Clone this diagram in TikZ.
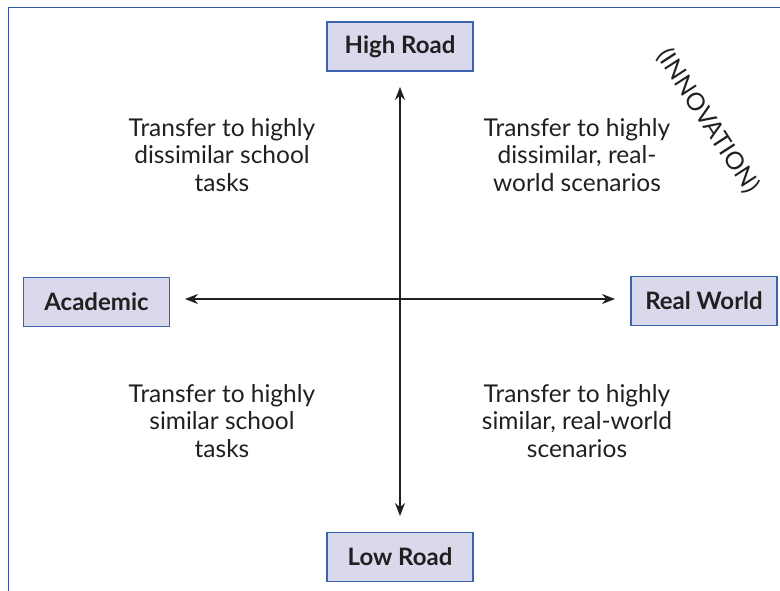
\documentclass[tikz,border=0pt]{standalone}
\usepackage{fontspec}
\usetikzlibrary{arrows.meta}
\setmainfont{Lato}
\definecolor{frameblue}{HTML}{2F55A4}
\definecolor{boxfill}{HTML}{DAD9EC}
\definecolor{boxline}{HTML}{3A62AE}
\definecolor{txt}{HTML}{231F20}
\begin{document}
\begin{tikzpicture}[x=1pt,y=-1pt,
  lbl/.style={draw=boxline, line width=1.2pt, fill=boxfill, minimum width=146pt, minimum height=49pt, inner sep=0pt, font=\fontsize{24}{28}\selectfont\bfseries, text=txt},
  quad/.style={align=center, font=\fontsize{24.5}{27.5}\selectfont, text=txt},
  axis/.style={line width=1.3pt, txt, -{Stealth[length=13pt,width=10pt]}}
]
\useasboundingbox (0,0) rectangle (780,591);
\draw[frameblue, line width=1.5pt] (780,7.5) -- (8.5,7.5) -- (8.5,591);
\node[lbl] (high) at (400,46.5) {High Road};
\node[lbl] (low) at (400,557) {Low Road};
\node[lbl] (acad) at (96.5,302) {Academic};
\node[lbl] (real) at (704,301) {Real World};
\coordinate (c) at (400,299);
\coordinate (t) at (400,87);
\coordinate (b) at (400,516);
\coordinate (l) at (185,299);
\coordinate (r) at (615,299);
\draw[axis] (c) -- (t);
\draw[axis] (c) -- (b);
\draw[axis] (c) -- (l);
\draw[axis] (c) -- (r);
\node[quad] (tl) at (222,155) {Transfer to highly\\dissimilar school\\tasks};
\node[quad] (tr) at (577,155) {Transfer to highly\\dissimilar, real-\\world scenarios};
\node[quad] (bl) at (222,421) {Transfer to highly\\similar school\\tasks};
\node[quad] (br) at (577,421) {Transfer to highly\\similar, real-world\\scenarios};
\node[quad, rotate=-57, inner sep=0pt] (inn) at (708,121) {(INNOVATION)};
\end{tikzpicture}
\end{document}
